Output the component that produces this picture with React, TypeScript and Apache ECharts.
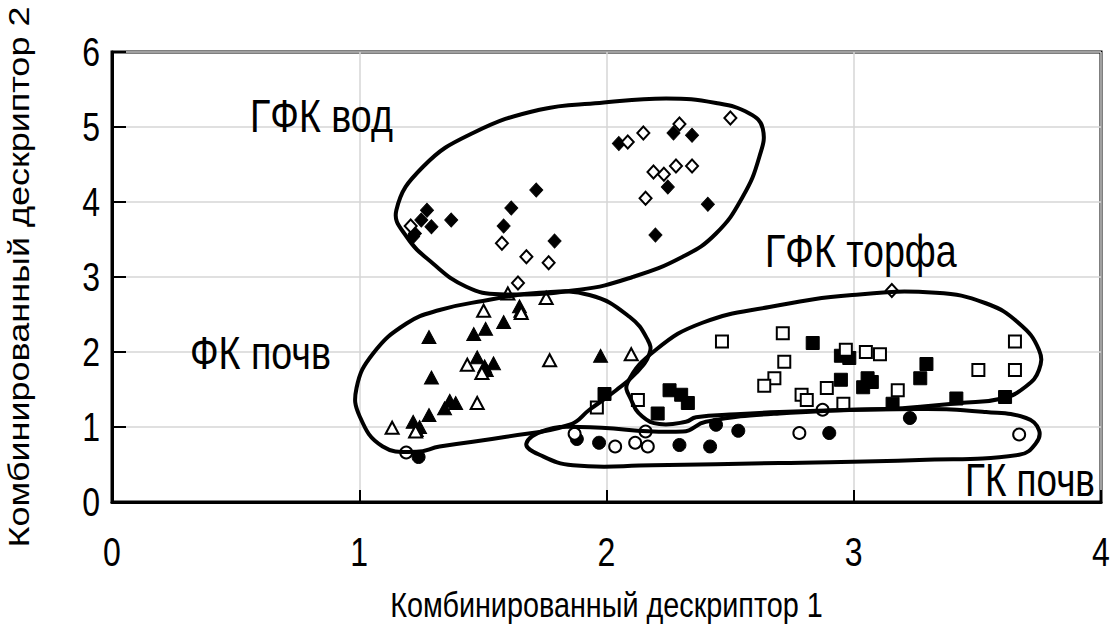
import { useEffect, useRef } from "react";
import * as echarts from "echarts";

// Axis settings
const X_MIN = 0;
const X_MAX = 4;
const Y_MIN = 0;
const Y_MAX = 6;
const TICK_STEP = 1;
const xTicks = [0, 1, 2, 3, 4];
const yTicks = [0, 1, 2, 3, 4, 5, 6];

const X_NAME = "Комбинированный дескриптор 1";
const Y_NAME = "Комбинированный дескриптор 2";

// ГФК вод (diamonds)
const vodFilled: number[][] = [
  [1.274, 3.89], [1.251, 3.76], [1.292, 3.67], [1.218, 3.54], [1.225, 3.58],
  [1.372, 3.76], [1.615, 3.92], [1.716, 4.16], [1.584, 3.68], [1.79, 3.48],
  [2.05, 4.78], [2.271, 4.92], [2.346, 4.89], [2.248, 4.2], [2.41, 3.97], [2.198, 3.56],
];
const vodOpen: number[][] = [
  [1.208, 3.68], [1.577, 3.45], [1.676, 3.27], [1.766, 3.19], [1.642, 2.92],
  [2.086, 4.8], [2.149, 4.92], [2.295, 5.04], [2.501, 5.12], [2.19, 4.4],
  [2.232, 4.37], [2.281, 4.48], [2.346, 4.48], [2.158, 4.05], [3.154, 2.82],
];

// ФК почв (triangles)
const fkFilled: number[][] = [
  [1.282, 2.2], [1.292, 1.66], [1.463, 2.24], [1.511, 2.31], [1.584, 2.4],
  [1.648, 2.61], [1.653, 2.55], [1.477, 1.93], [1.507, 1.81], [1.543, 1.85],
  [1.514, 1.76], [1.366, 1.35], [1.39, 1.32], [1.345, 1.25], [1.282, 1.16],
  [1.218, 1.07], [1.244, 1.0], [1.231, 0.96], [1.976, 1.95],
];
const fkOpen: number[][] = [
  [1.133, 0.99], [1.437, 1.83], [1.496, 1.72], [1.477, 1.32], [1.503, 2.55],
  [1.655, 2.52], [1.601, 2.78], [1.228, 0.94], [1.756, 2.72], [1.77, 1.89], [2.1, 1.97],
];

// ГФК торфа (squares)
const peatFilled: number[][] = [
  [1.992, 1.44], [2.255, 1.49], [2.302, 1.43], [2.329, 1.32], [2.207, 1.18],
  [2.834, 2.12], [2.948, 1.63], [2.948, 1.95], [2.982, 1.92], [3.056, 1.65],
  [3.073, 1.6], [3.038, 1.53], [3.157, 1.31], [3.294, 1.84], [3.269, 1.65],
  [3.415, 1.38], [3.612, 1.4],
];
const peatOpen: number[][] = [
  [1.961, 1.26], [2.127, 1.36], [2.467, 2.14], [2.713, 2.25], [2.719, 1.87],
  [2.679, 1.65], [2.638, 1.55], [2.789, 1.43], [2.81, 1.36], [2.891, 1.52],
  [2.968, 2.03], [3.049, 2.0], [3.106, 1.97], [2.958, 1.31], [3.178, 1.49],
  [3.652, 2.14], [3.504, 1.76], [3.652, 1.76],
];

// ГК почв (circles)
const gkFilled: number[][] = [
  [1.24, 0.6], [1.88, 0.84], [1.97, 0.79], [2.295, 0.76], [2.419, 0.74],
  [2.443, 1.03], [2.533, 0.95], [2.901, 0.92], [3.227, 1.12],
];
const gkOpen: number[][] = [
  [1.19, 0.66], [1.871, 0.91], [2.035, 0.74], [2.116, 0.79], [2.167, 0.74],
  [2.158, 0.94], [2.78, 0.92], [2.874, 1.23], [3.669, 0.9],
];

// Group outlines (closed curves through these points)
const vodOutline: number[][] = [
  [1.15, 3.89], [1.258, 4.47], [1.46, 4.92], [1.729, 5.23], [1.972, 5.32],
  [2.241, 5.38], [2.443, 5.32], [2.578, 5.18], [2.632, 4.98], [2.618, 4.6],
  [2.551, 4.07], [2.443, 3.58], [2.308, 3.27], [2.106, 3.0], [1.891, 2.83],
  [1.568, 2.77], [1.433, 2.87], [1.298, 3.18], [1.191, 3.54],
];
const fkOutline: number[][] = [
  [0.989, 1.52], [1.056, 1.98], [1.191, 2.38], [1.325, 2.56], [1.5, 2.68],
  [1.729, 2.79], [1.931, 2.76], [2.093, 2.47], [2.167, 2.16], [2.174, 1.98],
  [2.12, 1.72], [2.039, 1.49], [1.931, 1.23], [1.851, 1.03], [1.595, 0.87],
  [1.325, 0.74], [1.231, 0.67], [1.095, 0.74], [1.002, 1.14],
];
const peatOutline: number[][] = [
  [2.085, 1.59], [2.2, 2.03], [2.388, 2.39], [2.659, 2.6], [2.994, 2.76],
  [3.332, 2.79], [3.534, 2.65], [3.669, 2.38], [3.749, 2.03], [3.749, 1.76],
  [3.696, 1.54], [3.6, 1.38], [3.426, 1.32], [3.196, 1.25], [2.982, 1.23],
  [2.699, 1.2], [2.524, 1.17], [2.362, 1.13], [2.321, 1.07], [2.214, 1.04],
  [2.145, 1.14], [2.1, 1.36],
];
const gkOutline: number[][] = [
  [1.676, 0.78], [1.756, 0.96], [1.891, 1.0], [2.309, 0.94], [2.402, 1.07],
  [2.699, 1.18], [3.265, 1.24], [3.535, 1.2], [3.697, 1.12], [3.749, 0.96],
  [3.736, 0.78], [3.669, 0.63], [3.265, 0.56], [2.699, 0.52], [2.186, 0.49],
  [1.864, 0.49], [1.729, 0.63],
];

const FONT = "'Liberation Sans', Arial, sans-serif";
// horizontal texts use a narrowed Arial-like face
const SQUEEZE = 0.8;

function markerSeries(name: string, data: number[][], symbol: string, size: number | number[], filled: boolean) {
  return {
    type: "scatter",
    name,
    data,
    symbol,
    symbolSize: size,
    z: 3,
    itemStyle: filled
      ? { color: "#000", borderColor: "#000", borderWidth: 1, opacity: 1 }
      : { color: "#fff", borderColor: "#000", borderWidth: 2, opacity: 1 },
  };
}

function outlineSeries(name: string, pts: number[][]) {
  return {
    type: "custom",
    name,
    data: pts,
    coordinateSystem: "cartesian2d",
    z: 4,
    silent: true,
    clip: false,
    renderItem: (params: any, api: any) => {
      if (params.dataIndex !== 0) return null;
      const points = pts.map((p) => api.coord(p));
      return {
        type: "polygon",
        shape: { points, smooth: 0.45 },
        style: { fill: "none", stroke: "#000", lineWidth: 4 },
      };
    },
  };
}

function hText(text: string, x: number, y: number, size: number, align: string) {
  return {
    type: "text",
    x,
    y,
    scaleX: SQUEEZE,
    z: 10,
    style: { text, fontSize: size, fontFamily: FONT, fill: "#000", align, verticalAlign: "middle" },
  };
}

export default function App() {
  const ref = useRef<HTMLDivElement>(null);

  useEffect(() => {
    if (!ref.current) return;
    const chart = echarts.init(ref.current, undefined, { renderer: "svg" });
    chart.setOption({
      animation: false,
      backgroundColor: "#fff",
      grid: {
        left: 112,
        top: 52,
        right: 14,
        bottom: 137,
        show: true,
        borderColor: "#000",
        borderWidth: 3,
      },
      xAxis: {
        type: "value",
        min: X_MIN,
        max: X_MAX,
        interval: TICK_STEP,
        axisLine: { show: true, onZero: false, lineStyle: { color: "#000", width: 3 } },
        axisTick: { show: true, inside: true, length: 12, lineStyle: { color: "#000", width: 2 } },
        axisLabel: { show: false },
        splitLine: { show: true, lineStyle: { color: "#d6d6d6", width: 1.5 } },
      },
      yAxis: {
        type: "value",
        min: Y_MIN,
        max: Y_MAX,
        interval: TICK_STEP,
        axisLine: { show: true, onZero: false, lineStyle: { color: "#000", width: 3 } },
        axisTick: { show: true, inside: true, length: 14, lineStyle: { color: "#000", width: 2 } },
        axisLabel: { show: false },
        splitLine: { show: true, lineStyle: { color: "#d6d6d6", width: 1.5 } },
      },
      series: [
        markerSeries("ГФК вод", vodFilled, "diamond", [13, 14], true),
        markerSeries("ГФК вод ", vodOpen, "diamond", [12, 13], false),
        markerSeries("ФК почв", fkFilled, "triangle", [14, 13], true),
        markerSeries("ФК почв ", fkOpen, "triangle", [13, 12], false),
        markerSeries("ГФК торфа", peatFilled, "rect", 13, true),
        markerSeries("ГФК торфа ", peatOpen, "rect", 12, false),
        markerSeries("ГК почв", gkFilled, "circle", 13, true),
        markerSeries("ГК почв ", gkOpen, "circle", 12, false),
        outlineSeries("outline-vod", vodOutline),
        outlineSeries("outline-fk", fkOutline),
        outlineSeries("outline-peat", peatOutline),
        outlineSeries("outline-gk", gkOutline),
      ],
    });

    // Tick labels, axis names and group captions
    const toPx = (v: number[]) => chart.convertToPixel({ gridIndex: 0 }, v) as number[];
    const [gridLeft, gridBottom] = toPx([X_MIN, Y_MIN]);
    const [gridRight, gridTop] = toPx([X_MAX, Y_MAX]);
    const texts: any[] = [];
    xTicks.forEach((v) => {
      const [px] = toPx([v, Y_MIN]);
      texts.push(hText(String(v), px, gridBottom + 50, 40, "center"));
    });
    yTicks.forEach((v) => {
      const [, py] = toPx([X_MIN, v]);
      texts.push(hText(String(v), gridLeft - 12, py, 40, "right"));
    });
    texts.push(hText(X_NAME, (gridLeft + gridRight) / 2, gridBottom + 102, 36, "center"));
    texts.push({
      type: "text",
      x: 19,
      y: (gridTop + gridBottom) / 2,
      rotation: Math.PI / 2,
      scaleY: SQUEEZE,
      z: 10,
      style: { text: Y_NAME, fontSize: 36, fontFamily: FONT, fill: "#000", align: "center", verticalAlign: "middle" },
    });
    texts.push(hText("ГФК вод", 250, 115, 47, "left"));
    texts.push(hText("ГФК торфа", 765, 250, 47, "left"));
    texts.push(hText("ФК почв", 190, 352, 47, "left"));
    texts.push(hText("ГК почв", 965, 480, 46, "left"));
    chart.setOption({ graphic: texts });

    return () => chart.dispose();
  }, []);

  return (
    <div
      ref={ref}
      style={{ position: "absolute", left: 0, top: 0, width: 1115, height: 639, background: "#fff" }}
    />
  );
}
